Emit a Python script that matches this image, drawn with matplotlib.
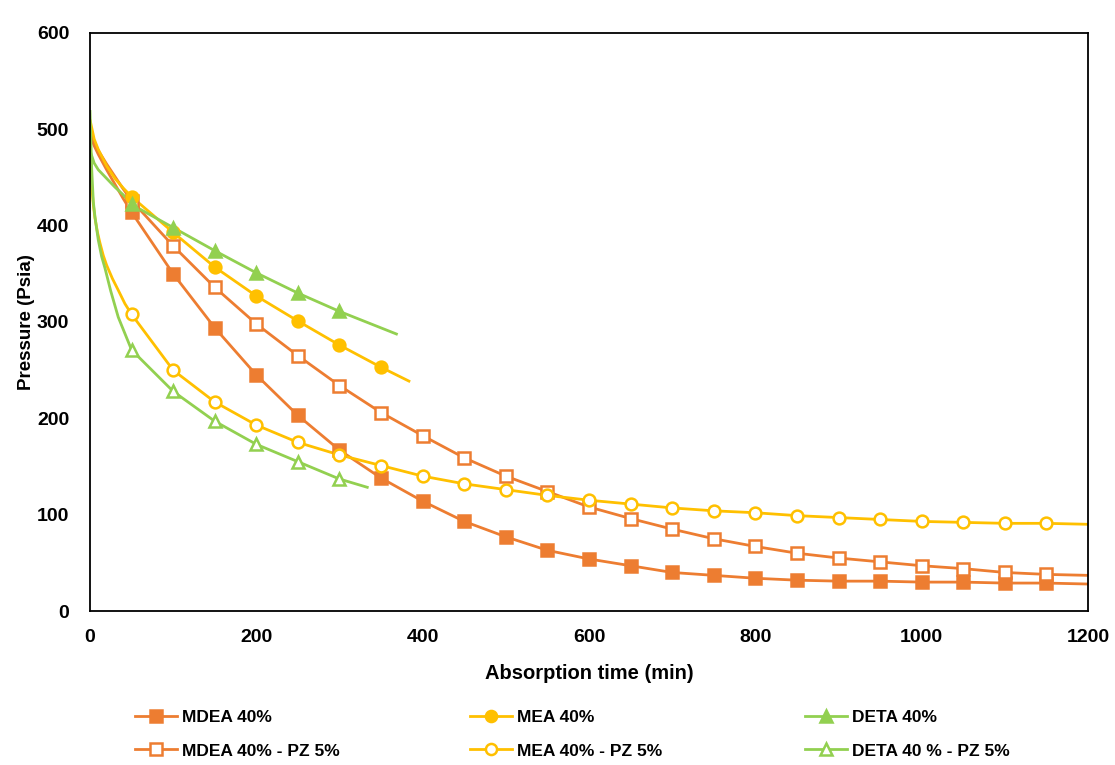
import matplotlib
matplotlib.use("Agg")
import matplotlib.pyplot as plt
from matplotlib.lines import Line2D

plt.rcParams['font.family'] = ['Liberation Sans', 'DejaVu Sans']

ORANGE = '#ED7D31'
YELLOW = '#FFC000'
GREEN = '#92D050'

# measured points (markers), absorption time in min, pressure in psia
t_long = [50, 100, 150, 200, 250, 300, 350, 400, 450, 500, 550, 600,
          650, 700, 750, 800, 850, 900, 950, 1000, 1050, 1100, 1150]
mdea_p = [414, 350, 294, 245, 203, 167, 138, 114, 93, 77, 63, 54,
          47, 40, 37, 34, 32, 31, 31, 30, 30, 29, 29]
mdea_pz_p = [426, 379, 336, 298, 265, 234, 206, 182, 159, 140, 124, 108,
             96, 85, 75, 67, 60, 55, 51, 47, 44, 40, 38]
mea_pz_p = [308, 250, 217, 193, 175, 162, 151, 140, 132, 126, 120, 115,
            111, 107, 104, 102, 99, 97, 95, 93, 92, 91, 91]

mea_t = [50, 100, 150, 200, 250, 300, 350]
mea_p = [430, 393, 357, 327, 301, 276, 253]

deta_t = [50, 100, 150, 200, 250, 300]
deta_p = [422, 398, 374, 351, 330, 311]
deta_pz_p = [271, 228, 197, 173, 155, 137]

# fitted curves (lines)
mdea_fit_t = [0, 5, 10, 20, 30, 40] + t_long + [1200]
mdea_fit_p = [495, 483, 474, 458, 443, 428] + mdea_p + [28]
mdea_pz_fit_t = [0, 5, 10, 20, 30, 40] + t_long + [1200]
mdea_pz_fit_p = [498, 487, 478, 464, 451, 438] + mdea_pz_p + [37]
mea_pz_fit_t = [0, 2, 4, 6, 9, 12, 16, 20, 27, 34, 42] + t_long + [1200]
mea_pz_fit_p = [470, 442, 422, 408, 393, 382, 369, 359, 345, 333, 319] + mea_pz_p + [90]
mea_fit_t = [0, 5, 10, 20, 30, 40] + mea_t + [385]
mea_fit_p = [510, 490, 479, 462, 449, 439] + mea_p + [238]
deta_fit_t = [0, 5, 10, 20, 30, 40] + deta_t + [370]
deta_fit_p = [478, 465, 458, 449, 440, 432] + deta_p + [287]
deta_pz_fit_t = [0, 2, 4, 6, 10, 14, 18, 25, 34, 42] + deta_t + [335]
deta_pz_fit_p = [520, 460, 425, 409, 385, 368, 356, 332, 305, 288] + deta_pz_p + [128]

fig = plt.figure(figsize=(11.15, 7.65), dpi=100)
ax = fig.add_axes([0.0807, 0.2013, 0.8951, 0.7556])

lw = 2.0
series = [
    ('MDEA 40%', mdea_fit_t, mdea_fit_p, t_long, mdea_p, ORANGE, 's', True),
    ('MDEA 40% - PZ 5%', mdea_pz_fit_t, mdea_pz_fit_p, t_long, mdea_pz_p, ORANGE, 's', False),
    ('MEA 40%', mea_fit_t, mea_fit_p, mea_t, mea_p, YELLOW, 'o', True),
    ('MEA 40% - PZ 5%', mea_pz_fit_t, mea_pz_fit_p, t_long, mea_pz_p, YELLOW, 'o', False),
    ('DETA 40%', deta_fit_t, deta_fit_p, deta_t, deta_p, GREEN, '^', True),
    ('DETA 40 % - PZ 5%', deta_pz_fit_t, deta_pz_fit_p, deta_t, deta_pz_p, GREEN, '^', False),
]

handles = []
for name, ft, fp, mt, mp, col, mk, filled in series:
    ax.plot(ft, fp, color=col, lw=lw, zorder=2, solid_capstyle='butt')
    face = col if filled else 'white'
    ax.plot(mt, mp, linestyle='none', marker=mk, markersize=8.5,
            markerfacecolor=face, markeredgecolor=col, markeredgewidth=1.8, zorder=3)
    handles.append(Line2D([], [], color=col, lw=lw, marker=mk, markersize=8,
                          markerfacecolor=face, markeredgecolor=col,
                          markeredgewidth=1.8, label=name))

ax.set_xlim(0, 1200)
ax.set_ylim(0, 600)
ax.set_xticks([0, 200, 400, 600, 800, 1000, 1200])
ax.set_yticks([0, 100, 200, 300, 400, 500, 600])
ax.tick_params(axis='both', length=0, labelsize=14)
ax.tick_params(axis='y', pad=15)
ax.tick_params(axis='x', pad=13)
for lab in ax.get_xticklabels() + ax.get_yticklabels():
    lab.set_fontweight('bold')
for sp in ax.spines.values():
    sp.set_linewidth(1.3)
    sp.set_color('black')

ax.set_xlabel('Absorption time (min)', fontsize=14.5, fontweight='bold', labelpad=13)
ax.set_ylabel('Pressure (Psia)', fontsize=13.5, fontweight='bold', labelpad=1)

# three legend columns placed like the original
col_x = [135 / 1115, 470 / 1115, 805 / 1115]
for i, x in enumerate(col_x):
    fig.legend(handles=handles[2 * i:2 * i + 2], loc='upper left',
               bbox_to_anchor=(x, 1 - 710 / 765), frameon=False,
               prop={'weight': 'bold', 'size': 12.5},
               handlelength=2.4, handletextpad=0.3, borderpad=0,
               borderaxespad=0, labelspacing=1.05)

fig.savefig('out.png', dpi=100)
